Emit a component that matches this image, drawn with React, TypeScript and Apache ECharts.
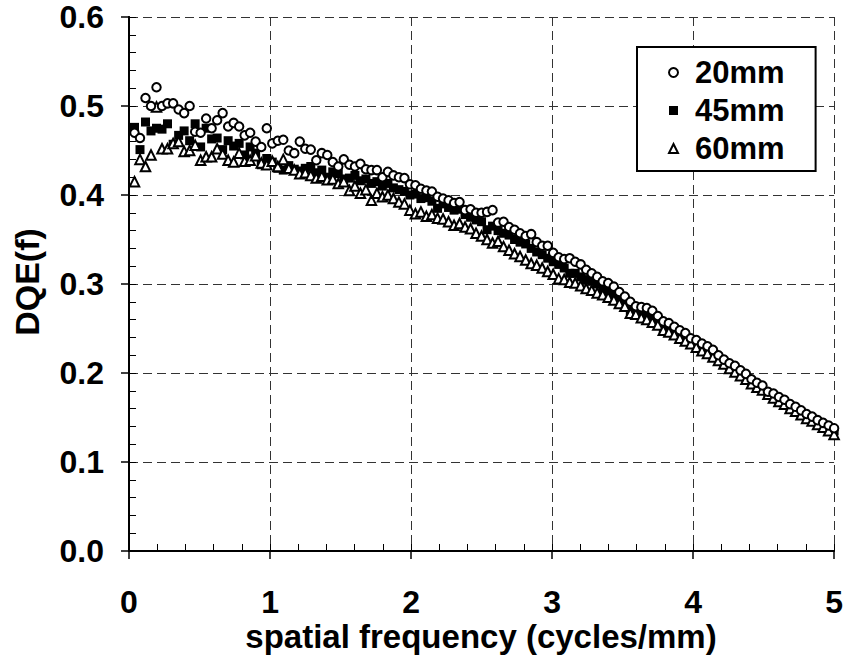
import React, { useEffect, useRef } from "react";
import * as echarts from "echarts";

// spatial frequency samples (cycles/mm)
const FREQ: number[] = [
  0.039, 0.078, 0.117, 0.156, 0.195, 0.234, 0.273, 0.313, 0.352, 0.391,
  0.430, 0.469, 0.508, 0.547, 0.586, 0.625, 0.664, 0.703, 0.742, 0.781,
  0.820, 0.859, 0.898, 0.938, 0.977, 1.016, 1.055, 1.094, 1.133, 1.172,
  1.211, 1.250, 1.289, 1.328, 1.367, 1.406, 1.445, 1.484, 1.523, 1.563,
  1.602, 1.641, 1.680, 1.719, 1.758, 1.797, 1.836, 1.875, 1.914, 1.953,
  1.992, 2.031, 2.070, 2.109, 2.148, 2.188, 2.227, 2.266, 2.305, 2.344,
  2.383, 2.422, 2.461, 2.500, 2.539, 2.578, 2.617, 2.656, 2.695, 2.734,
  2.773, 2.813, 2.852, 2.891, 2.930, 2.969, 3.008, 3.047, 3.086, 3.125,
  3.164, 3.203, 3.242, 3.281, 3.320, 3.359, 3.398, 3.438, 3.477, 3.516,
  3.555, 3.594, 3.633, 3.672, 3.711, 3.750, 3.789, 3.828, 3.867, 3.906,
  3.945, 3.984, 4.023, 4.063, 4.102, 4.141, 4.180, 4.219, 4.258, 4.297,
  4.336, 4.375, 4.414, 4.453, 4.492, 4.531, 4.570, 4.609, 4.648, 4.688,
  4.727, 4.766, 4.805, 4.844, 4.883, 4.922, 4.961, 5.000,
];

const DQE_20MM: number[] = [
  0.470, 0.464, 0.509, 0.500, 0.521, 0.500, 0.503, 0.503, 0.496, 0.492,
  0.500, 0.471, 0.470, 0.486, 0.475, 0.484, 0.492, 0.477, 0.481, 0.477,
  0.467, 0.470, 0.460, 0.454, 0.475, 0.458, 0.461, 0.462, 0.450, 0.447,
  0.460, 0.452, 0.451, 0.439, 0.447, 0.445, 0.437, 0.432, 0.440, 0.434,
  0.432, 0.435, 0.429, 0.428, 0.428, 0.420, 0.426, 0.422, 0.420, 0.419,
  0.412, 0.411, 0.407, 0.405, 0.404, 0.398, 0.396, 0.394, 0.391, 0.392,
  0.383, 0.384, 0.380, 0.380, 0.381, 0.383, 0.369, 0.370, 0.364, 0.361,
  0.357, 0.354, 0.356, 0.347, 0.343, 0.343, 0.335, 0.330, 0.328, 0.329,
  0.325, 0.322, 0.316, 0.312, 0.308, 0.303, 0.301, 0.297, 0.291, 0.286,
  0.280, 0.275, 0.274, 0.273, 0.270, 0.264, 0.258, 0.256, 0.252, 0.248,
  0.245, 0.239, 0.237, 0.233, 0.230, 0.226, 0.220, 0.215, 0.211, 0.208,
  0.203, 0.199, 0.193, 0.189, 0.186, 0.179, 0.177, 0.173, 0.170, 0.165,
  0.162, 0.158, 0.154, 0.151, 0.147, 0.144, 0.141, 0.138,
];

const DQE_45MM: number[] = [
  0.476, 0.451, 0.482, 0.472, 0.475, 0.474, 0.480, 0.457, 0.467, 0.472,
  0.461, 0.480, 0.454, 0.475, 0.463, 0.464, 0.451, 0.461, 0.455, 0.458,
  0.445, 0.454, 0.447, 0.434, 0.441, 0.437, 0.430, 0.428, 0.433, 0.429,
  0.427, 0.430, 0.432, 0.425, 0.428, 0.420, 0.426, 0.424, 0.418, 0.419,
  0.422, 0.416, 0.418, 0.413, 0.415, 0.410, 0.413, 0.408, 0.406, 0.404,
  0.400, 0.401, 0.396, 0.397, 0.393, 0.385, 0.390, 0.386, 0.383, 0.384,
  0.378, 0.375, 0.372, 0.370, 0.361, 0.365, 0.360, 0.357, 0.355, 0.350,
  0.347, 0.345, 0.340, 0.336, 0.333, 0.329, 0.325, 0.322, 0.318, 0.312,
  0.312, 0.308, 0.305, 0.303, 0.300, 0.295, 0.292, 0.289, 0.284, 0.280,
  0.270, 0.268, 0.265, 0.264, 0.262, 0.257, 0.250, 0.249, 0.245, 0.242,
  0.238, 0.234, 0.231, 0.227, 0.224, 0.221, 0.215, 0.211, 0.207, 0.203,
  0.199, 0.195, 0.190, 0.186, 0.183, 0.177, 0.174, 0.170, 0.167, 0.162,
  0.159, 0.155, 0.151, 0.148, 0.144, 0.141, 0.138, 0.135,
];

const DQE_60MM: number[] = [
  0.415, 0.440, 0.432, 0.445, 0.499, 0.452, 0.452, 0.458, 0.460, 0.449,
  0.450, 0.456, 0.439, 0.443, 0.443, 0.452, 0.446, 0.439, 0.437, 0.447,
  0.438, 0.439, 0.444, 0.436, 0.434, 0.438, 0.432, 0.440, 0.430, 0.428,
  0.424, 0.425, 0.422, 0.419, 0.421, 0.417, 0.418, 0.413, 0.415, 0.405,
  0.410, 0.402, 0.406, 0.394, 0.402, 0.398, 0.400, 0.396, 0.392, 0.390,
  0.383, 0.379, 0.381, 0.376, 0.378, 0.374, 0.373, 0.370, 0.366, 0.368,
  0.364, 0.362, 0.357, 0.354, 0.350, 0.346, 0.348, 0.342, 0.338, 0.334,
  0.331, 0.327, 0.323, 0.321, 0.318, 0.314, 0.311, 0.306, 0.305, 0.302,
  0.301, 0.298, 0.295, 0.293, 0.290, 0.288, 0.285, 0.282, 0.278, 0.275,
  0.267, 0.266, 0.262, 0.260, 0.257, 0.254, 0.248, 0.246, 0.243, 0.239,
  0.236, 0.233, 0.229, 0.225, 0.222, 0.218, 0.214, 0.210, 0.205, 0.201,
  0.197, 0.193, 0.188, 0.184, 0.181, 0.176, 0.172, 0.168, 0.165, 0.160,
  0.157, 0.153, 0.149, 0.146, 0.142, 0.139, 0.135, 0.131,
];

const SERIES_NAMES = ["20mm", "45mm", "60mm"];
const X_TITLE = "spatial frequency (cycles/mm)";
const Y_TITLE = "DQE(f)";

const FONT = "'Liberation Sans', Arial, Helvetica, sans-serif";

function pairs(xs: number[], ys: number[]) {
  return ys.map((y, i) => [xs[i], y]);
}

export default function App() {
  const ref = useRef<HTMLDivElement>(null);
  useEffect(() => {
    if (!ref.current) return;
    const chart = echarts.init(ref.current, undefined, { renderer: "svg" });
    const gridLine = { show: true, lineStyle: { color: "#333", width: 1, type: [9, 5] as any } };
    chart.setOption({
      animation: false,
      backgroundColor: "#fff",
      grid: { left: 129, right: 9, top: 17, bottom: 106 },
      xAxis: [
        {
          type: "value", min: 0, max: 5, interval: 1, position: "bottom",
          axisLine: { show: true, lineStyle: { color: "#000", width: 2 } },
          axisTick: { show: true, inside: false, length: 8, lineStyle: { color: "#000", width: 1.5 } },
          axisLabel: {
            show: true, margin: 39, color: "#000", fontSize: 32, lineHeight: 24,
            fontWeight: "bold", fontFamily: FONT,
          },
          splitLine: gridLine,
        },
        {
          type: "value", min: 0, max: 5, interval: 0.2, position: "bottom",
          axisLine: { show: false },
          axisTick: { show: true, inside: true, length: 7, lineStyle: { color: "#000", width: 1 } },
          axisLabel: { show: false },
          splitLine: { show: false },
        },
      ],
      yAxis: [
        {
          type: "value", min: 0, max: 0.6, interval: 0.1, position: "left",
          axisLine: { show: true, lineStyle: { color: "#000", width: 2 } },
          axisTick: { show: true, inside: false, length: 8, lineStyle: { color: "#000", width: 1.5 } },
          axisLabel: {
            show: true, margin: 25, color: "#000", fontSize: 32, fontWeight: "bold", fontFamily: FONT,
            formatter: (v: number) => v.toFixed(1),
          },
          splitLine: gridLine,
        },
        {
          type: "value", min: 0, max: 0.6, interval: 0.1, position: "right",
          axisLine: { show: true, lineStyle: { color: "#000", width: 2 } },
          axisTick: { show: false }, axisLabel: { show: false }, splitLine: { show: false },
        },
        {
          type: "value", min: 0, max: 0.6, interval: 0.02, position: "left",
          axisLine: { show: false },
          axisTick: { show: true, inside: true, length: 7, lineStyle: { color: "#000", width: 1 } },
          axisLabel: { show: false }, splitLine: { show: false },
        },
      ],
      legend: {
        show: true,
        orient: "vertical",
        left: 637, top: 47,
        data: SERIES_NAMES,
        backgroundColor: "#fff",
        borderColor: "#000", borderWidth: 2, borderRadius: 0,
        padding: [10, 31, 7, 31],
        itemWidth: 9, itemHeight: 9, itemGap: 7,
        textStyle: {
          color: "#000", fontSize: 31, fontWeight: "bold", fontFamily: FONT, lineHeight: 30,
          padding: [0, 0, 0, 12],
        },
      },
      graphic: [
        {
          type: "text", x: 481, y: 636,
          style: {
            text: X_TITLE, fill: "#000", font: `bold 33px ${FONT}`, lineHeight: 26,
            textAlign: "center", textVerticalAlign: "middle",
          },
        },
        {
          type: "text", x: 27, y: 282, rotation: Math.PI / 2,
          style: { text: Y_TITLE, fill: "#000", font: `bold 34px ${FONT}`, textAlign: "center", textVerticalAlign: "middle" },
        },
      ],
      series: [
        {
          name: SERIES_NAMES[0], type: "scatter", xAxisIndex: 0, yAxisIndex: 0, z: 4,
          symbol: "circle", symbolSize: 8.5,
          itemStyle: { color: "#fff", borderColor: "#000", borderWidth: 2, opacity: 1 },
          data: pairs(FREQ, DQE_20MM),
        },
        {
          name: SERIES_NAMES[1], type: "scatter", xAxisIndex: 0, yAxisIndex: 0, z: 2,
          symbol: "rect", symbolSize: 9,
          itemStyle: { color: "#000", borderColor: "#000", borderWidth: 0, opacity: 1 },
          data: pairs(FREQ, DQE_45MM),
        },
        {
          name: SERIES_NAMES[2], type: "scatter", xAxisIndex: 0, yAxisIndex: 0, z: 3,
          symbol: "triangle", symbolSize: 9.5,
          itemStyle: { color: "#fff", borderColor: "#000", borderWidth: 2, opacity: 1 },
          data: pairs(FREQ, DQE_60MM),
        },
      ],
    });
    return () => chart.dispose();
  }, []);
  return (
    <div
      ref={ref}
      style={{ position: "fixed", left: 0, top: 0, width: 846, height: 657, background: "#fff" }}
    />
  );
}
